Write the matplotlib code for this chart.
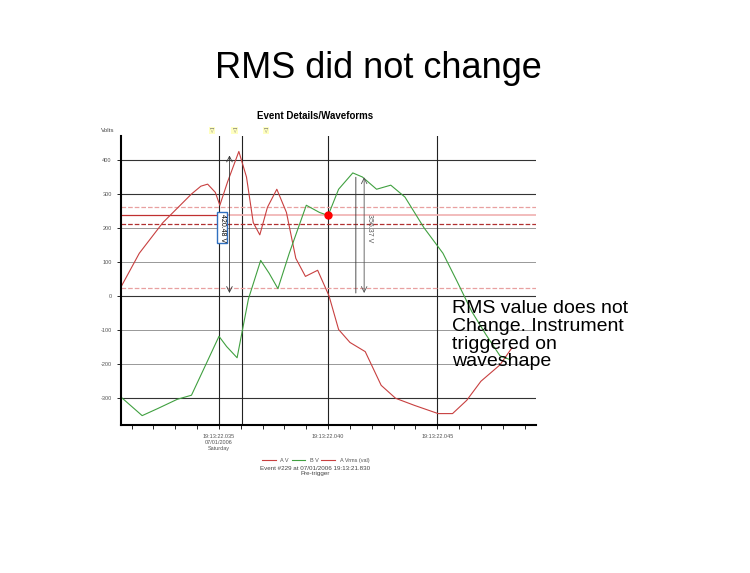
import matplotlib.pyplot as plt

plt.rcParams["font.family"] = ["Liberation Sans", "DejaVu Sans"]

# time in ms after 19:13:22.000, volts
a_t = [30.52, 31.35, 32.43, 33.74, 34.17, 34.48, 34.83, 35.04, 35.39, 35.91, 36.26, 36.57, 36.87,
       37.22, 37.65, 38.09, 38.52, 38.96, 39.52, 40.04, 40.48, 41.0, 41.7, 42.43, 43.09, 43.96,
       45.04, 45.7, 46.35, 47.0, 47.87, 48.43]
a_v = [27, 125, 215, 299, 322, 328, 304, 266, 334, 424, 349, 215, 179, 260, 313, 245, 110, 57, 75,
       0, -99, -137, -164, -263, -301, -322, -346, -346, -307, -251, -203, -152]
b_t = [30.52, 31.48, 32.2, 33.09, 33.74, 34.39, 35.0, 35.35, 35.83, 36.35, 36.91, 37.3, 37.7, 38.22,
       39.0, 39.6, 40.0, 40.48, 41.13, 41.57, 42.22, 42.87, 43.52, 44.39, 45.26, 45.91, 46.57, 47.22,
       47.87, 48.35]
b_v = [-298, -352, -331, -304, -292, -203, -119, -149, -182, -9, 104, 66, 21, 125, 266, 245, 236, 313,
       361, 349, 313, 325, 290, 200, 125, 42, -45, -113, -176, -188]
grid_v = [400, 300, 200, 100, 0, -100, -200, -300]
dark_v = [400, 300, 0, -300]
cursor_t = [35.0, 36.05, 40.0, 45.0]
tick_t = [35, 40, 45]
tick_lab = ["19:13:22.035\n07/01/2006\nSaturday", "19:13:22.040", "19:13:22.045"]
rms_val = 236
peak_a, peak_b = 420.48, 356.37

fig = plt.figure(figsize=(7.5, 5.73), dpi=100)
fig.text(0.505, 0.88, "RMS did not change", ha="center", va="center", fontsize=26)
fig.text(0.42, 0.793, "Event Details/Waveforms", ha="center", fontsize=7, fontweight="bold")
fig.text(0.135, 0.77, "Volts", fontsize=4.5, color="#444")
for xf in [0.28, 0.31, 0.352]:
    fig.text(xf, 0.77, "\u25bd", fontsize=4, color="#666", family="DejaVu Sans",
             bbox=dict(boxstyle="square,pad=0.2", fc="#ffffc0", ec="none"))

ax = fig.add_axes([0.161, 0.258, 0.553, 0.505])
ax.set_xlim(30.5, 49.5)
ax.set_ylim(-380, 470)
for v in grid_v:
    ax.axhline(v, color="#333" if v in dark_v else "#888", lw=0.8 if v in dark_v else 0.6, zorder=0)
for t in cursor_t:
    ax.axvline(t, color="#222", lw=0.8, zorder=1)
ax.axhline(260, color="#e8a0a0", ls="--", lw=0.9)
ax.axhline(24, color="#e8a0a0", ls="--", lw=0.9)
ax.axhline(212, color="#b03030", ls="--", lw=0.9)
ax.plot([30.5, 35.0], [rms_val, rms_val], color="#c03030", lw=0.9)
ax.plot([35.0, 49.5], [rms_val, rms_val], color="#f0b0b0", lw=1.2)
ax.plot(a_t, a_v, color="#c84040", lw=0.8, label="A V")
ax.plot(b_t, b_v, color="#40a040", lw=0.8, label="B V")
ax.plot([], [], color="#c84040", lw=0.8, label="A Vrms (val)")
ax.plot(40.0, rms_val, "o", color="red", ms=5, zorder=5)

ax.annotate("", xy=(35.48, peak_a), xytext=(35.48, 0),
            arrowprops=dict(arrowstyle="<->", color="#333", lw=0.6))
ax.text(35.15, 200, f"{peak_a} V", rotation=270, fontsize=5, ha="center", va="center",
        bbox=dict(boxstyle="square,pad=0.2", fc="white", ec="#3070c0"))
ax.annotate("", xy=(41.27, peak_b), xytext=(41.27, 0),
            arrowprops=dict(arrowstyle="-", color="#333", lw=0.6))
ax.annotate("", xy=(41.65, peak_b), xytext=(41.65, 0),
            arrowprops=dict(arrowstyle="<->", color="#555", lw=0.6))
ax.text(41.9, 200, f"{peak_b} V", rotation=270, fontsize=5, ha="center", va="center", color="#555")

for s in ["top", "right"]:
    ax.spines[s].set_visible(False)
ax.spines["left"].set_linewidth(1.5)
ax.spines["bottom"].set_linewidth(1.5)
ax.set_yticks(grid_v)
ax.set_yticklabels([str(v) for v in grid_v], fontsize=4, color="#555")
ax.set_xticks(tick_t)
ax.set_xticklabels(tick_lab, fontsize=4, color="#555")
ax.set_xticks([31 + i for i in range(19)], minor=True)
ax.tick_params(length=3, width=0.6)
ax.tick_params(which="minor", length=3, width=0.6)

ax.legend(loc="upper center", bbox_to_anchor=(0.47, -0.095), ncol=3, frameon=False,
          fontsize=4, handlelength=2.5, columnspacing=0.5, labelcolor="#555")
fig.text(0.42, 0.187, "Event #229 at 07/01/2006 19:13:21.830\nPre-trigger", ha="center", va="top",
         fontsize=4.5, color="#444", linespacing=1.1)

fig.text(0.603, 0.476, "RMS value does not\nChange. Instrument\ntriggered on\nwaveshape",
         fontsize=14, va="top", ha="left", linespacing=1.05)

fig.savefig("out.png", dpi=100)
